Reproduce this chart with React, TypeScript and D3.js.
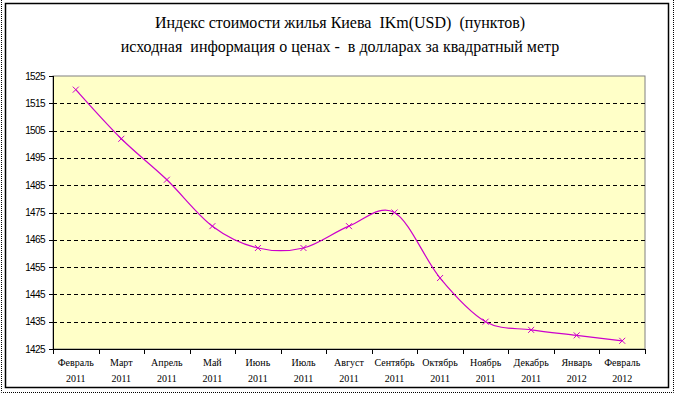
import React from 'react';
import * as d3 from 'd3';

const months = ['Февраль', 'Март', 'Апрель', 'Май', 'Июнь', 'Июль', 'Август', 'Сентябрь', 'Октябрь', 'Ноябрь', 'Декабрь', 'Январь', 'Февраль'];
const years = ['2011', '2011', '2011', '2011', '2011', '2011', '2011', '2011', '2011', '2011', '2011', '2012', '2012'];
const values = [1520, 1502, 1487, 1470, 1462, 1462, 1470, 1475, 1451, 1435, 1432, 1430, 1428];
const yTicks = [1425, 1435, 1445, 1455, 1465, 1475, 1485, 1495, 1505, 1515, 1525];
const titleLines = [
  'Индекс стоимости жилья Киева  IKm(USD)  (пунктов)',
  'исходная  информация о ценах -  в долларах за квадратный метр',
];

const W = 675;
const H = 394;
const plot = { left: 53, top: 76, right: 645, bottom: 349 };

export default function App() {
  const keys = months.map((_, i) => String(i));
  const x = d3.scaleBand().domain(keys).range([plot.left, plot.right]);
  const y = d3.scaleLinear().domain([1425, 1525]).range([plot.bottom, plot.top]);

  const line = d3
    .line<number>()
    .x((_, i) => x(String(i))! + x.bandwidth() / 2)
    .y((d) => y(d))
    .curve(d3.curveCardinal.tension(0));

  const edges = d3.range(months.length + 1).map((i) => plot.left + i * x.bandwidth());

  return (
    <div style={{ position: 'absolute', left: 0, top: 0 }}>
      <svg width={W} height={H} style={{ display: 'block', background: '#fff' }}>
        {/* outer frames */}
        <rect x={1.5} y={-2} width={672} height={394.5} fill="none" stroke="#000" strokeWidth={1} strokeDasharray="1,1" />
        <rect x={5.5} y={3.5} width={663} height={384} fill="#fff" stroke="#000" strokeWidth={1.5} />

        {titleLines.map((t, i) => (
          <text
            key={i}
            x={340}
            y={28 + i * 24}
            textAnchor="middle"
            fontFamily="'Liberation Serif', 'Times New Roman', serif"
            fontSize={16}
            fill="#000"
            style={{ whiteSpace: 'pre' }}
          >
            {t}
          </text>
        ))}

        {/* plot area */}
        <rect
          x={plot.left}
          y={plot.top}
          width={plot.right - plot.left}
          height={plot.bottom - plot.top}
          fill="#FFFFC8"
          stroke="#808080"
          strokeWidth={1}
        />

        {yTicks
          .filter((t) => t !== 1425 && t !== 1525)
          .map((t) => (
            <line
              key={t}
              x1={plot.left}
              x2={plot.right}
              y1={Math.round(y(t)) + 0.5}
              y2={Math.round(y(t)) + 0.5}
              stroke="#000"
              strokeWidth={1}
              strokeDasharray="4,3"
            />
          ))}

        {/* axes */}
        <line x1={plot.left + 0.5} x2={plot.left + 0.5} y1={plot.top} y2={plot.bottom} stroke="#000" />
        <line x1={plot.left} x2={plot.right} y1={plot.bottom + 0.5} y2={plot.bottom + 0.5} stroke="#000" />

        {yTicks.map((t) => (
          <g key={t}>
            <line x1={plot.left - 4} x2={plot.left} y1={Math.round(y(t)) + 0.5} y2={Math.round(y(t)) + 0.5} stroke="#000" />
            <text
              x={plot.left - 8}
              y={y(t) + 3.5}
              textAnchor="end"
              fontFamily="'Liberation Sans', Arial, sans-serif"
              fontSize={10}
              letterSpacing={-0.6}
              fill="#000"
            >
              {t}
            </text>
          </g>
        ))}

        {edges.map((e, i) => (
          <line key={i} x1={Math.round(e) + 0.5} x2={Math.round(e) + 0.5} y1={plot.bottom} y2={plot.bottom + 5} stroke="#000" />
        ))}

        {months.map((m, i) => {
          const cx = x(String(i))! + x.bandwidth() / 2;
          return (
            <text
              key={i}
              x={cx}
              textAnchor="middle"
              fontFamily="'Liberation Serif', 'Times New Roman', serif"
              fontSize={10}
              fill="#000"
            >
              <tspan x={cx} y={366}>{m}</tspan>
              <tspan x={cx} y={382}>{years[i]}</tspan>
            </text>
          );
        })}

        {/* series */}
        <path d={line(values) ?? ''} fill="none" stroke="#CC00CC" strokeWidth={1.2} />
        {values.map((v, i) => {
          const cx = x(keys[i])! + x.bandwidth() / 2;
          const cy = y(v);
          return (
            <path
              key={i}
              d={`M${cx - 3},${cy - 3}L${cx + 3},${cy + 3}M${cx - 3},${cy + 3}L${cx + 3},${cy - 3}`}
              stroke="#CC00CC"
              strokeWidth={1}
            />
          );
        })}
      </svg>
    </div>
  );
}
